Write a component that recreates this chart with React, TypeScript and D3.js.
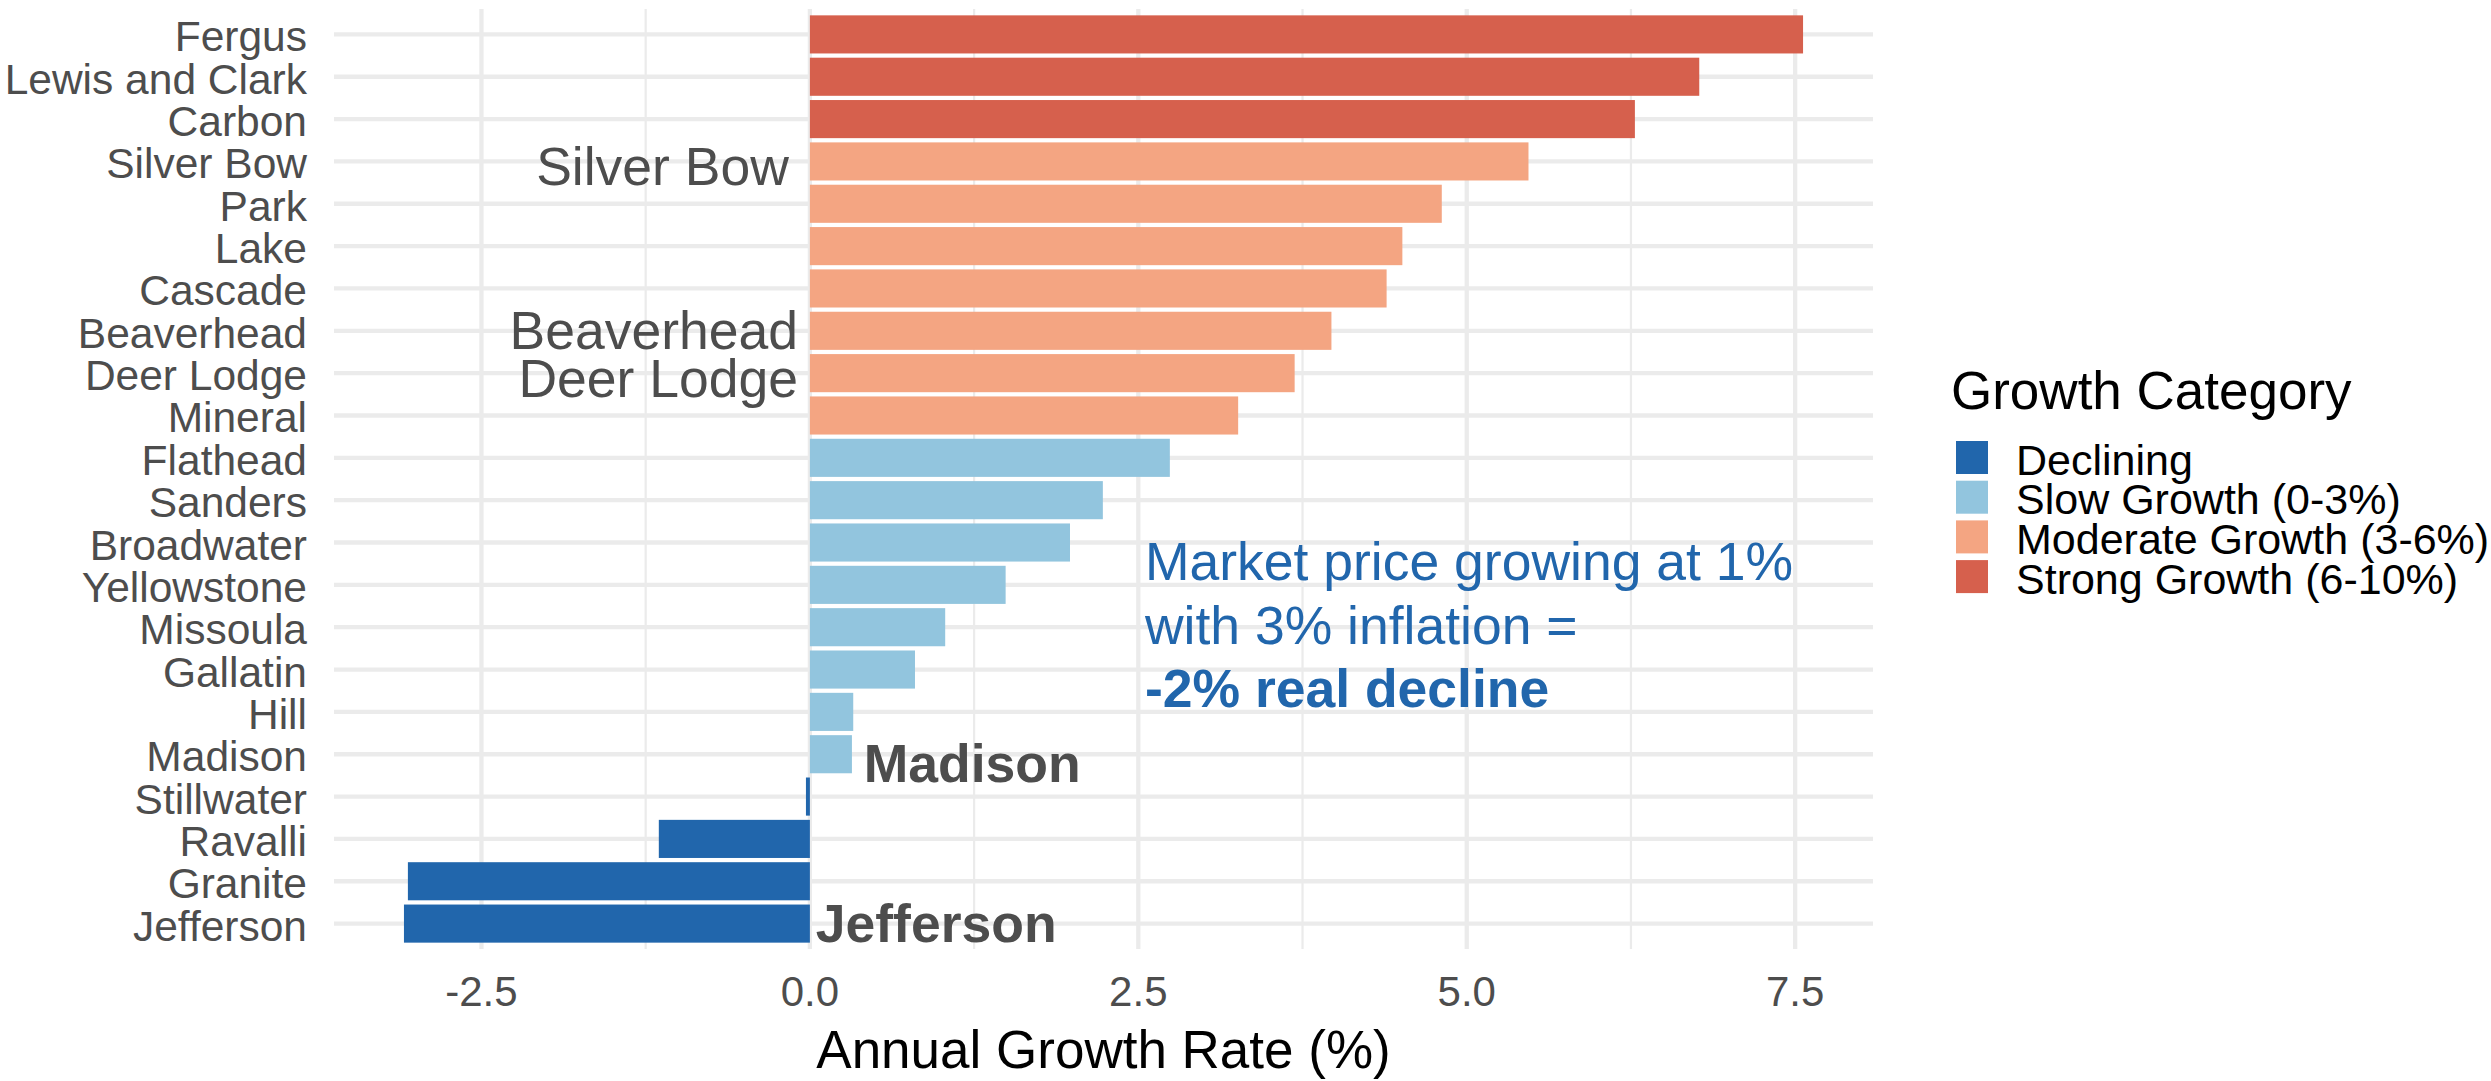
import React from "react";
import * as d3 from "d3";

const counties = [
  "Fergus", "Lewis and Clark", "Carbon", "Silver Bow", "Park", "Lake", "Cascade",
  "Beaverhead", "Deer Lodge", "Mineral", "Flathead", "Sanders", "Broadwater",
  "Yellowstone", "Missoula", "Gallatin", "Hill", "Madison", "Stillwater",
  "Ravalli", "Granite", "Jefferson",
];
const growthRates = [
  7.56, 6.77, 6.28, 5.47, 4.81, 4.51, 4.39, 3.97, 3.69, 3.26, 2.74, 2.23, 1.98,
  1.49, 1.03, 0.8, 0.33, 0.32, -0.03, -1.15, -3.06, -3.09,
];
const categoryNames = [
  "Declining", "Slow Growth (0-3%)", "Moderate Growth (3-6%)", "Strong Growth (6-10%)",
];
const categoryColors = ["#2166AC", "#92C5DE", "#F4A582", "#D6604D"];
const categoryThresholds = [0, 3, 6];
const xTicks = [-2.5, 0, 2.5, 5, 7.5];
const xTickLabels = ["-2.5", "0.0", "2.5", "5.0", "7.5"];
const xMinorTicks = [-1.25, 1.25, 3.75, 6.25];

// highlighted county labels: [county, x in data units, anchor, bold, dy px]
const countyLabels: [string, number, string, boolean, number][] = [
  ["Silver Bow", -0.16, "end", false, 23.7],
  ["Beaverhead", -0.09, "end", false, 18.4],
  ["Deer Lodge", -0.09, "end", false, 23.7],
  ["Madison", 0.41, "start", true, 28],
  ["Jefferson", 0.045, "start", true, 18.4],
];
const noteLines = ["Market price growing at 1%", "with 3% inflation =", "-2% real decline"];
const noteBold = [false, false, true];

const FONT = "'Liberation Sans', Arial, Helvetica, sans-serif";

export default function App() {
  const W = 2491, H = 1081;
  const left = 334, right = 1873, top = 9, bottom = 949;

  const [mn, mx] = d3.extent(growthRates) as [number, number];
  const pad = (mx - mn) * 0.05;
  const x = d3.scaleLinear().domain([mn - pad, mx + pad]).range([left, right]);
  const y = d3.scaleBand<string>().domain(counties).range([top, bottom])
    .paddingInner(0.1).paddingOuter(0.15);
  const yc = (c: string) => (y(c) as number) + y.bandwidth() / 2;

  const catIndex = (v: number) => d3.bisectRight(categoryThresholds, v);
  const color = d3.scaleOrdinal<string, string>().domain(categoryNames).range(categoryColors);

  const gridCol = "#EBEBEB";
  const axisTextCol = "#4D4D4D";

  const legendX = 1956, legendY0 = 457.5, legendStep = 39.7;

  return (
    <svg width={W} height={H} style={{ position: "absolute", left: 0, top: 0, display: "block" }}
      fontFamily={FONT}>
      <rect width={W} height={H} fill="white" />
      {/* grid */}
      {xMinorTicks.map((t) => (
        <line key={"m" + t} x1={x(t)} x2={x(t)} y1={top} y2={bottom} stroke={gridCol} strokeWidth={2.2} />
      ))}
      {counties.map((c) => (
        <line key={"h" + c} x1={left} x2={right} y1={yc(c)} y2={yc(c)} stroke={gridCol} strokeWidth={4.3} />
      ))}
      {xTicks.map((t) => (
        <line key={"v" + t} x1={x(t)} x2={x(t)} y1={top} y2={bottom} stroke={gridCol} strokeWidth={4.3} />
      ))}
      {/* bars */}
      {counties.map((c, i) => {
        const v = growthRates[i];
        return (
          <rect key={"b" + c} x={Math.min(x(0), x(v))} width={Math.abs(x(v) - x(0))}
            y={y(c)} height={y.bandwidth()} fill={color(categoryNames[catIndex(v)])} />
        );
      })}
      {/* y axis labels */}
      {counties.map((c) => (
        <text key={"yl" + c} x={307} y={yc(c) + 17} textAnchor="end" fontSize={42.5} fill={axisTextCol}>
          {c}
        </text>
      ))}
      {/* x axis labels */}
      {xTicks.map((t, i) => (
        <text key={"xl" + t} x={x(t)} y={1006} textAnchor="middle" fontSize={42} fill={axisTextCol}>
          {xTickLabels[i]}
        </text>
      ))}
      <text x={(left + right) / 2} y={1068} textAnchor="middle" fontSize={53} fill="black">
        Annual Growth Rate (%)
      </text>
      {/* county labels */}
      {countyLabels.map(([c, xv, anchor, bold, dy]) => (
        <text key={"cl" + c} x={x(xv)} y={yc(c) + dy} textAnchor={anchor as any}
          fontSize={53.5} fontWeight={bold ? "bold" : "normal"} fill={axisTextCol}>
          {c}
        </text>
      ))}
      {/* note */}
      {noteLines.map((s, i) => (
        <text key={"n" + i} x={x(2.55)} y={yc("Broadwater") + 37.7 + i * 63.5}
          fontSize={53.5} fontWeight={noteBold[i] ? "bold" : "normal"} fill="#2166AC">
          {s}
        </text>
      ))}
      {/* legend */}
      <text x={1951} y={409} fontSize={53} fill="black">Growth Category</text>
      {categoryNames.map((n, i) => (
        <g key={"lg" + n}>
          <rect x={legendX} y={legendY0 + i * legendStep - 16.5} width={32} height={33} fill={color(n)} />
          <text x={2016} y={legendY0 + i * legendStep + 17} fontSize={43} fill="black">{n}</text>
        </g>
      ))}
    </svg>
  );
}
